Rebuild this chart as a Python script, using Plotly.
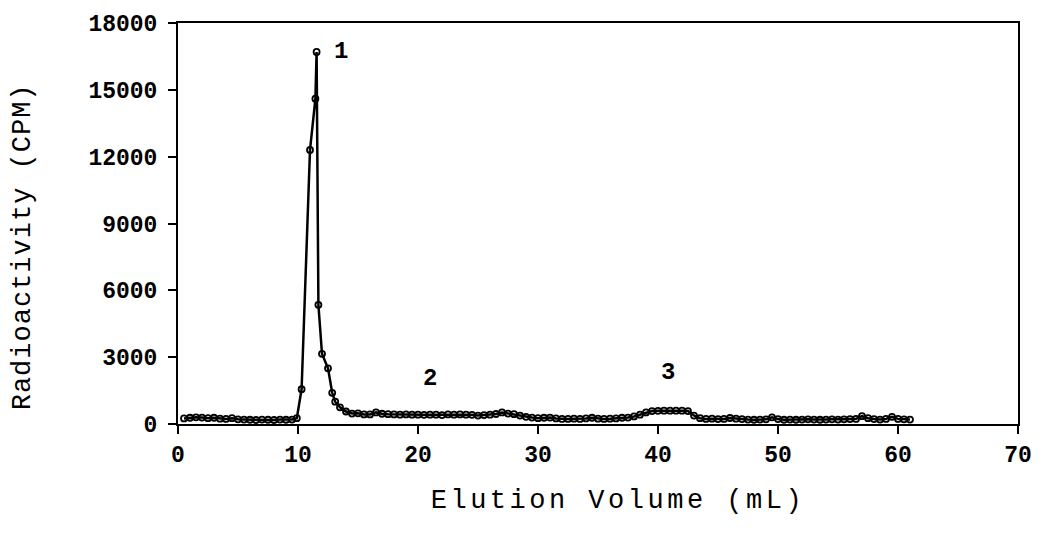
import plotly.graph_objects as go

# Elution volume (mL) and radioactivity (CPM)
elution_ml = [
    0.5, 1.0, 1.5, 2.0, 2.5, 3.0, 3.5, 4.0, 4.5, 5.0, 5.5, 6.0, 6.5, 7.0, 7.5,
    8.0, 8.5, 9.0, 9.5, 9.9, 10.3, 11.0, 11.45, 11.55, 11.7, 12.0, 12.5, 12.85,
    13.1, 13.5, 14.0, 14.5, 15.0, 15.5, 16.0, 16.5, 17.0, 17.5, 18.0, 18.5,
    19.0, 19.5, 20.0, 20.5, 21.0, 21.5, 22.0, 22.5, 23.0, 23.5, 24.0, 24.5,
    25.0, 25.5, 26.0, 26.5, 27.0, 27.5, 28.0, 28.5, 29.0, 29.5, 30.0, 30.5,
    31.0, 31.5, 32.0, 32.5, 33.0, 33.5, 34.0, 34.5, 35.0, 35.5, 36.0, 36.5,
    37.0, 37.5, 38.0, 38.5, 39.0, 39.5, 40.0, 40.5, 41.0, 41.5, 42.0, 42.5,
    43.0, 43.5, 44.0, 44.5, 45.0, 45.5, 46.0, 46.5, 47.0, 47.5, 48.0, 48.5,
    49.0, 49.5, 50.0, 50.5, 51.0, 51.5, 52.0, 52.5, 53.0, 53.5, 54.0, 54.5,
    55.0, 55.5, 56.0, 56.5, 57.0, 57.5, 58.0, 58.5, 59.0, 59.5, 60.0, 60.5,
    61.0,
]
radioactivity_cpm = [
    250, 280, 300, 290, 260, 280, 240, 230, 260, 210, 200, 190, 180, 200, 190,
    180, 200, 190, 200, 260, 1560, 12300, 14600, 16700, 5350, 3150, 2500, 1400,
    1000, 750, 560, 470, 480, 430, 430, 520, 460, 440, 430, 420,
    430, 420, 420, 410, 420, 420, 400, 430, 420, 430, 420, 410,
    380, 400, 420, 450, 520, 470, 440, 380, 320, 290, 260, 280,
    290, 250, 230, 230, 240, 230, 250, 280, 240, 230, 240, 250,
    280, 290, 340, 420, 520, 580, 590, 600, 600, 600, 600, 580,
    380, 260, 230, 240, 220, 230, 270, 240, 220, 200, 190, 200,
    210, 300, 220, 190, 200, 190, 200, 210, 200, 190, 200, 210,
    200, 210, 220, 230, 350, 260, 220, 200, 230, 320, 230, 210,
    200,
]

peak_labels = ["1", "2", "3"]
peak_label_x = [13.6, 21.0, 40.8]
peak_label_y = [16700, 2050, 2330]

x_ticks = [0, 10, 20, 30, 40, 50, 60, 70]
x_tick_text = ["0", "10", "20", "30", "40", "50", "60", "70"]
y_ticks = [0, 3000, 6000, 9000, 12000, 15000, 18000]
y_tick_text = ["0", "3000", "6000", "9000", "12000", "15000", "18000"]

x_title = "Elution Volume (mL)"
y_title = "Radioactivity (CPM)"

FONT = "Liberation Mono, Courier New, monospace"

fig = go.Figure()
fig.add_trace(go.Scatter(
    x=elution_ml, y=radioactivity_cpm, mode="lines+markers",
    line=dict(color="black", width=2.5),
    marker=dict(symbol="circle-open", size=6, color="black",
                line=dict(width=1.8, color="black")),
    showlegend=False,
))

for t, xx, yy in zip(peak_labels, peak_label_x, peak_label_y):
    fig.add_annotation(x=xx, y=yy, text=t, showarrow=False,
                       font=dict(family=FONT, size=24, color="black", weight="bold"))

# axis titles placed as annotations for exact positioning
fig.add_annotation(xref="paper", yref="paper", x=0.524, y=-0.193,
                   xanchor="center", yanchor="middle", text=x_title,
                   showarrow=False,
                   font=dict(family=FONT, size=27, color="black"))
fig.add_annotation(xref="paper", yref="paper", x=-0.184, y=0.443,
                   xanchor="center", yanchor="middle", text=y_title,
                   textangle=-90, showarrow=False,
                   font=dict(family=FONT, size=27, color="black"))

fig.update_layout(
    width=1044, height=536,
    margin=dict(l=178, r=20, t=20, b=112),
    paper_bgcolor="white", plot_bgcolor="white",
    font=dict(family=FONT, color="black"),
)
fig.update_xaxes(
    range=[0, 70], tickvals=x_ticks, ticktext=x_tick_text, ticks="outside",
    ticklen=8, tickwidth=2,
    tickcolor="black", showline=True, linecolor="black", linewidth=2,
    mirror=True, showgrid=False, zeroline=False,
    tickfont=dict(family=FONT, size=23, color="black", weight="bold"),
)
fig.update_yaxes(
    range=[0, 18000], tickvals=y_ticks, ticktext=y_tick_text, ticks="outside",
    ticklen=8, tickwidth=2, ticklabelstandoff=6,
    tickcolor="black", showline=True, linecolor="black", linewidth=2,
    mirror=True, showgrid=False, zeroline=False,
    tickfont=dict(family=FONT, size=23, color="black", weight="bold"),
)

post = ("document.querySelectorAll('.annotation-text').forEach(function(e){"
        "var t=e.textContent;"
        "if(t.indexOf('Elution')===0){e.style.letterSpacing='3.5px';}"
        "else if(t.indexOf('Radio')===0){e.style.letterSpacing='1px';}"
        "});")
fig.write_html("out.html", post_script=post)
